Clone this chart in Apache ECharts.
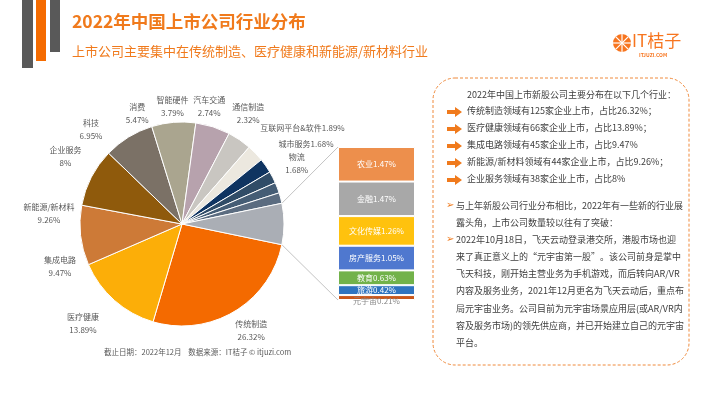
<!DOCTYPE html>
<html>
<head>
<meta charset="utf-8">
<style>
  html, body { margin: 0; padding: 0; background: #fff; }
  #main { width: 710px; height: 399px; }
</style>
<script src="https://cdn.jsdelivr.net/npm/echarts@6.0.0/dist/echarts.min.js"></script>
</head>
<body>
<div id="main"></div>
<script>
// 2022年中国上市公司行业分布 —— 复合条饼图
var pieNames = ['传统制造', '医疗健康', '集成电路', '新能源/新材料', '企业服务', '科技', '消费',
                '智能硬件', '汽车交通', '通信制造', '互联网平台&软件', '城市服务', '物流'];
var pieValues = [26.32, 13.89, 9.47, 9.26, 8, 6.95, 5.47, 3.79, 2.74, 2.32, 1.89, 1.68, 1.68];
var pieColors = ['#f46a00', '#fcae08', '#cd7a37', '#8f5a0c', '#7b7166', '#aaa58f', '#b7a2ad',
                 '#c9c6c1', '#ece8df', '#0f3461', '#304c67', '#455d75', '#5b6c80'];
var otherColor = '#aaaeb5';
var oneLine = ['互联网平台&软件', '城市服务'];
// where each label sits: angle (deg, clockwise from east) and distance from the centre
var labelAngles = [57, 135, 161, -175.3, -150, -134, -112, -94.6, -77, -59, -38.5, -32.8, -28];
var labelDist = [127, 140, 129, 133.5, 134.5, 131, 119.5, 118.4, 121, 128.7, 154, 147.6, 130];

var barNames = ['农业', '金融', '文化传媒', '房产服务', '教育', '旅游', '元宇宙'];
var barValues = [1.47, 1.47, 1.26, 1.05, 0.63, 0.42, 0.21];
var barColors = ['#ed8f4c', '#a8a8a8', '#ffc20e', '#4f78cf', '#72b24a', '#2f74c0', '#c9561a'];

var summaryLines = [
  '传统制造领域有125家企业上市，占比26.32%；',
  '医疗健康领域有66家企业上市，占比13.89%；',
  '集成电路领域有45家企业上市，占比9.47%',
  '新能源/新材料领域有44家企业上市，占比9.26%；',
  '企业服务领域有38家企业上市，占比8%'
];
var noteLines = [
  ['➢', '与上年新股公司行业分布相比，2022年有一些新的行业展'],
  ['', '露头角，上市公司数量较以往有了突破：'],
  ['➢', '2022年10月18日，飞天云动登录港交所，港股市场也迎'],
  ['', '来了真正意义上的“元宇宙第一股”。该公司前身是掌中'],
  ['', '飞天科技，刚开始主营业务为手机游戏，而后转向AR/VR'],
  ['', '内容及服务业务，2021年12月更名为飞天云动后，重点布'],
  ['', '局元宇宙业务。公司目前为元宇宙场景应用层(或AR/VR内'],
  ['', '容及服务市场)的领先供应商，并已开始建立自己的元宇宙'],
  ['', '平台。']
];

var FONT = '"Noto Sans CJK SC", "Noto Sans", sans-serif';
var ORANGE = '#f07a1c';
var chart = echarts.init(document.getElementById('main'));

var otherTotal = 0;
barValues.forEach(function (v) { otherTotal += v; });
otherTotal = Math.round(otherTotal * 100) / 100;

var cx = 182, cy = 224, r = 102;
var halfOther = otherTotal / 100 * 360 / 2;
var barLeft = 338, barTop = 147, barW = 77, barH = 153;

var pieData = pieNames.map(function (n, i) {
  return { name: n, value: pieValues[i], itemStyle: { color: pieColors[i] } };
});
pieData.push({ name: '其他', value: otherTotal, itemStyle: { color: otherColor },
               label: { show: false } });

var barSeries = barNames.map(function (n, i) {
  var last = i === barNames.length - 1;
  return {
    name: n,
    type: 'bar',
    stack: 'other',
    barWidth: '100%',
    data: [barValues[i]],
    itemStyle: { color: barColors[i], borderColor: '#fff', borderWidth: 1 },
    label: {
      show: true,
      position: last ? 'bottom' : 'inside',
      distance: last ? -3 : 5,
      color: last ? '#8a8a8a' : '#fff',
      fontSize: 8,
      fontFamily: FONT,
      formatter: n + barValues[i] + '%'
    }
  };
});

// connector lines from the grey slice edge to the stacked bar
var rad = halfOther * Math.PI / 180;
var p1 = [cx + r * Math.cos(rad), cy - r * Math.sin(rad)];
var p2 = [cx + r * Math.cos(rad), cy + r * Math.sin(rad)];

var graphics = [
  { type: 'rect', shape: { x: 22, y: 0, width: 11, height: 68 }, style: { fill: '#595959' } },
  { type: 'rect', shape: { x: 36, y: 0, width: 10, height: 61 }, style: { fill: '#f56b00' } },
  { type: 'rect', shape: { x: 50, y: 0, width: 10, height: 52 }, style: { fill: '#595959' } },
  { type: 'text', left: 72, top: 13, style: { text: '2022年中国上市公司行业分布', fill: ORANGE,
      font: 'bold 17.5px ' + FONT } },
  { type: 'text', left: 72, top: 45, style: { text: '上市公司主要集中在传统制造、医疗健康和新能源/新材料行业',
      fill: ORANGE, font: '13px ' + FONT } },
  { type: 'line', shape: { x1: p1[0], y1: p1[1], x2: barLeft, y2: barTop },
    style: { stroke: '#c4c4c4', lineWidth: 1 } },
  { type: 'line', shape: { x1: p2[0], y1: p2[1], x2: barLeft, y2: barTop + barH },
    style: { stroke: '#c4c4c4', lineWidth: 1 } },
  { type: 'text', left: 104, top: 348, style: { text: '截止日期：2022年12月    数据来源：IT桔子 © itjuzi.com',
      fill: '#595959', font: '7.5px ' + FONT } },
  // logo
  { type: 'circle', shape: { cx: 622, cy: 43, r: 9 }, style: { fill: '#f7751f' } },
  { type: 'line', shape: { x1: 613, y1: 43, x2: 631, y2: 43 }, style: { stroke: '#fff', lineWidth: 1.2 } },
  { type: 'line', shape: { x1: 622, y1: 34, x2: 622, y2: 52 }, style: { stroke: '#fff', lineWidth: 1.2 } },
  { type: 'line', shape: { x1: 615.6, y1: 36.6, x2: 628.4, y2: 49.4 }, style: { stroke: '#fff', lineWidth: 1.2 } },
  { type: 'line', shape: { x1: 615.6, y1: 49.4, x2: 628.4, y2: 36.6 }, style: { stroke: '#fff', lineWidth: 1.2 } },
  { type: 'text', left: 632, top: 32, style: { text: 'IT桔子', fill: '#f7751f', font: '17px ' + FONT } },
  { type: 'text', left: 639, top: 53, style: { text: 'ITJUZI.COM', fill: '#f7751f', font: 'bold 5px ' + FONT } },
  // right panel
  { type: 'rect', shape: { x: 433, y: 78, width: 256, height: 287, r: 22 },
    style: { fill: 'none', stroke: '#ef8a3c', lineWidth: 1, lineDash: [3, 2] } },
  { type: 'text', left: 467, top: 90, style: { text: '2022年中国上市新股公司主要分布在以下几个行业：',
      fill: '#404040', font: '9px ' + FONT } }
];

summaryLines.forEach(function (t, i) {
  var y = 112 + i * 17;
  graphics.push({ type: 'polygon',
    shape: { points: [[447, y - 2], [455, y - 2], [455, y - 5], [462, y], [455, y + 5], [455, y + 2], [447, y + 2]] },
    style: { fill: '#f07a1c' } });
  graphics.push({ type: 'text', left: 467, top: y - 6, style: { text: t, fill: '#404040', font: '9px ' + FONT } });
});

noteLines.forEach(function (row, i) {
  var y = 207 + i * 17.1;
  if (row[0]) {
    graphics.push({ type: 'text', left: 446, top: y - 7, style: { text: row[0], fill: '#f07a1c',
        font: '10px "DejaVu Sans"' } });
  }
  graphics.push({ type: 'text', left: 456, top: y - 6, style: { text: row[1], fill: '#404040',
      font: '9px ' + FONT } });
});

var option = {
  animation: false,
  backgroundColor: '#fff',
  grid: { left: barLeft, top: barTop, width: barW, height: barH, containLabel: false },
  xAxis: { type: 'category', data: ['其他'], show: false },
  yAxis: { type: 'value', min: 0, max: otherTotal, inverse: true, show: false },
  series: [
    {
      type: 'pie',
      center: [cx, cy],
      radius: r,
      startAngle: -halfOther,
      clockwise: true,
      avoidLabelOverlap: false,
      data: pieData,
      itemStyle: { borderColor: '#fff', borderWidth: 1 },
      label: {
        show: true,
        position: 'outside',
        color: '#595959',
        fontSize: 8,
        lineHeight: 13,
        fontFamily: FONT,
        formatter: function (p) {
          return oneLine.indexOf(p.name) >= 0 ? p.name + p.value + '%' : p.name + '\n' + p.value + '%';
        }
      },
      labelLine: { show: false, length: 10, length2: 0 },
      labelLayout: function (p) {
        var i = p.dataIndex;
        if (i >= labelAngles.length) return {};
        var a = labelAngles[i] * Math.PI / 180;
        return {
          x: cx + labelDist[i] * Math.cos(a),
          y: cy + labelDist[i] * Math.sin(a),
          align: 'center',
          verticalAlign: 'middle'
        };
      },
      emphasis: { disabled: true }
    }
  ].concat(barSeries),
  graphic: graphics
};
chart.setOption(option);
</script>
</body>
</html>
